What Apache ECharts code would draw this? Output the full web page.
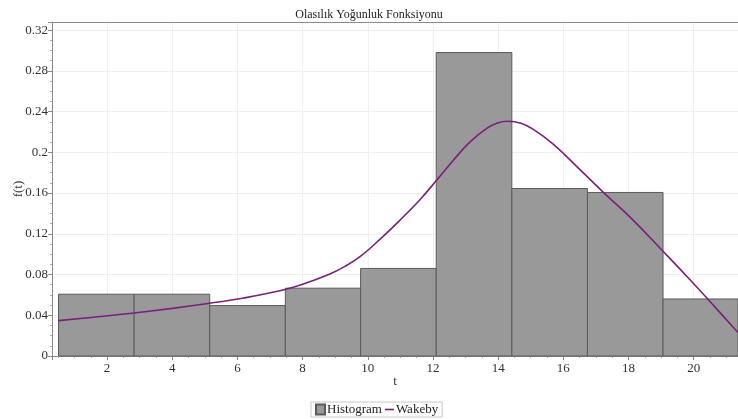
<!DOCTYPE html>
<html>
<head>
<meta charset="utf-8">
<title>Olasılık Yoğunluk Fonksiyonu</title>
<script src="https://cdn.jsdelivr.net/npm/echarts@6/dist/echarts.min.js"></script>
<style>
  html, body { margin: 0; padding: 0; background: #fff; }
  #chart { width: 738px; height: 419px; }
</style>
</head>
<body>
<div id="chart"></div>
<script>
// Histogram bins (class edges in t) and their densities
const binEdges = [0.51, 2.83, 5.15, 7.47, 9.78, 12.10, 14.42, 16.74, 19.06, 21.36];
const binDensity = [0.0607, 0.0607, 0.0495, 0.0666, 0.0860, 0.2980, 0.1645, 0.1606, 0.0560];

// Fitted Wakeby density, sampled along t
const curveT = [0.51, 1.5, 2.83, 4.0, 5.15, 6.2, 7.3, 8.0, 8.8, 9.3, 9.76, 10.37, 10.99, 11.6,
                12.11, 12.62, 13.13, 13.65, 14.0, 14.3, 14.7, 15.08, 15.69, 16.51, 17.22,
                18.14, 19.06, 19.78, 20.5, 21.36];
const curveF = [0.0347, 0.0378, 0.0423, 0.0468, 0.0518, 0.0570, 0.0640, 0.0705, 0.0800, 0.0880,
                0.0975, 0.1145, 0.1335, 0.1535, 0.1725, 0.1920, 0.2100, 0.2235, 0.2290, 0.2305,
                0.2285, 0.2225, 0.2080, 0.1830, 0.1610, 0.1335, 0.1028, 0.0785, 0.0535, 0.0230];

// Axis extents and y tick step
const tMin = 0.31, tMax = 21.36;
const fMax = 0.328, fStep = 0.04;

const histData = binDensity.map((v, i) => [binEdges[i], binEdges[i + 1], v]);
const lineData = curveT.map((t, i) => [t, curveF[i]]);

const serif = 'Liberation Serif';
const axisGrey = '#8a8a8a';
const chart = echarts.init(document.getElementById('chart'));

chart.setOption({
  animation: false,
  backgroundColor: '#fff',
  title: {
    text: 'Olasılık Yoğunluk Fonksiyonu',
    left: 'center',
    top: 4,
    textStyle: { fontFamily: serif, fontSize: 12, fontWeight: 'normal', color: '#222' }
  },
  legend: {
    left: 311,
    top: 402,
    padding: [1, 4],
    itemGap: 3,
    itemWidth: 9,
    itemHeight: 10,
    borderColor: '#c8c8c8',
    borderWidth: 1,
    textStyle: { fontFamily: serif, fontSize: 13, color: '#222', padding: [0, 0, 0, -3] },
    data: [
      { name: 'Histogram', icon: 'rect' },
      { name: 'Wakeby', icon: 'path://M0,0 M10,10 M0,4.1 L10,4.1 L10,5.9 L0,5.9 Z' }
    ]
  },
  grid: { left: 52, right: 0, top: 22, bottom: 63, outerBoundsMode: 'none', containLabel: false },
  xAxis: [{
    type: 'value',
    min: tMin,
    max: tMax,
    splitNumber: 10,
    name: 't',
    nameLocation: 'middle',
    nameGap: 19,
    nameMoveOverlap: false,
    nameTextStyle: { fontFamily: serif, fontSize: 13, color: '#333' },
    axisLine: { lineStyle: { color: axisGrey, width: 1 } },
    axisTick: { length: 4, lineStyle: { color: axisGrey } },
    minorTick: { show: true, splitNumber: 4, length: 2, lineStyle: { color: '#aaa' } },
    axisLabel: {
      showMinLabel: false,
      showMaxLabel: false,
      margin: 6,
      fontFamily: serif, fontSize: 13, color: '#333'
    },
    splitLine: { show: true, lineStyle: { color: '#f0f0f0' } }
  }, {
    type: 'value',
    position: 'top',
    min: tMin,
    max: tMax,
    axisLine: { show: true, onZero: false, lineStyle: { color: axisGrey, width: 1 } },
    axisTick: { show: false },
    axisLabel: { show: false },
    splitLine: { show: false }
  }],
  yAxis: {
    type: 'value',
    min: 0,
    max: fMax,
    interval: fStep,
    name: 'f(t)',
    nameLocation: 'middle',
    nameGap: 27,
    nameMoveOverlap: false,
    nameTextStyle: { fontFamily: serif, fontSize: 13, color: '#333' },
    axisLine: { show: true, lineStyle: { color: axisGrey, width: 1 } },
    axisTick: { show: true, length: 4, lineStyle: { color: axisGrey } },
    minorTick: { show: true, splitNumber: 4, length: 2, lineStyle: { color: '#aaa' } },
    axisLabel: { showMaxLabel: false, margin: 4, fontFamily: serif, fontSize: 13, color: '#333' },
    splitLine: { show: true, lineStyle: { color: '#f0f0f0' } }
  },
  series: [{
    name: 'Histogram',
    type: 'custom',
    data: histData,
    encode: { x: [0, 1], y: 2 },
    itemStyle: { color: '#999999', borderColor: '#5a5a5a', borderWidth: 1 },
    renderItem: function (params, api) {
      const p0 = api.coord([api.value(0), api.value(2)]);
      const p1 = api.coord([api.value(1), 0]);
      return {
        type: 'rect',
        shape: { x: p0[0], y: p0[1], width: p1[0] - p0[0], height: p1[1] - p0[1] },
        style: { fill: '#999999', stroke: '#5a5a5a', lineWidth: 1 }
      };
    },
    z: 2
  }, {
    name: 'Wakeby',
    type: 'line',
    data: lineData,
    smooth: 0.4,
    symbol: 'none',
    lineStyle: { color: '#7a1f7c', width: 1.6 },
    itemStyle: { color: '#7a1f7c' },
    z: 3
  }]
});
</script>
</body>
</html>
